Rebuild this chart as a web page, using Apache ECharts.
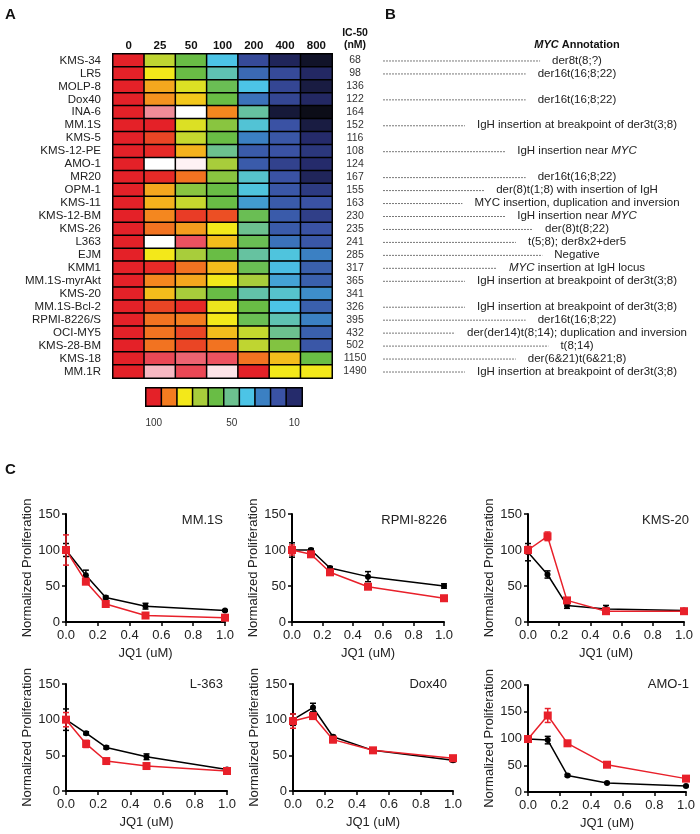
<!DOCTYPE html>
<html>
<head>
<meta charset="utf-8">
<script src="https://cdn.jsdelivr.net/npm/echarts@6/dist/echarts.min.js"></script>
<style>
html, body { margin: 0; padding: 0; background: #fff; }
#main { width: 700px; height: 834px; }
</style>
</head>
<body>
<div id="main"></div>
<script>
var FONT = '"Liberation Sans", Arial, sans-serif';

// panel A: heatmap, % proliferation vs JQ1 dose (nM)
var doseCols = ['0', '25', '50', '100', '200', '400', '800'];
var cellLines = ['KMS-34', 'LR5', 'MOLP-8', 'Dox40', 'INA-6', 'MM.1S', 'KMS-5', 'KMS-12-PE', 'AMO-1', 'MR20',
  'OPM-1', 'KMS-11', 'KMS-12-BM', 'KMS-26', 'L363', 'EJM', 'KMM1', 'MM.1S-myrAkt', 'KMS-20', 'MM.1S-Bcl-2',
  'RPMI-8226/S', 'OCI-MY5', 'KMS-28-BM', 'KMS-18', 'MM.1R'];
var ic50 = ['68', '98', '136', '122', '164', '152', '116', '108', '124', '167', '155', '163', '230', '235', '241',
  '285', '317', '365', '341', '326', '395', '432', '502', '1150', '1490'];
var proliferation = [
  [100, 73, 60, 40, 18, 8, 2],
  [100, 80, 60, 46, 25, 18, 9],
  [100, 86, 77, 58, 40, 17, 5],
  [100, 88, 83, 60, 27, 17, 9],
  [100, 120, 150, 89, 48, 4, 0],
  [100, 100, 77, 65, 42, 20, 5],
  [100, 96, 74, 60, 30, 21, 10],
  [100, 99, 85, 50, 22, 20, 13],
  [100, 150, 145, 70, 22, 16, 10],
  [100, 99, 91, 65, 43, 20, 8],
  [100, 86, 65, 60, 41, 21, 14],
  [100, 85, 74, 60, 34, 22, 20],
  [100, 89, 97, 95, 58, 22, 15],
  [100, 91, 87, 80, 50, 22, 20],
  [100, 150, 110, 84, 58, 27, 21],
  [100, 80, 70, 60, 48, 41, 30],
  [100, 99, 91, 84, 58, 39, 23],
  [100, 89, 86, 80, 70, 35, 23],
  [100, 84, 70, 60, 47, 43, 32],
  [100, 96, 99, 79, 60, 40, 23],
  [100, 91, 90, 80, 58, 46, 30],
  [100, 91, 96, 84, 74, 50, 23],
  [100, 91, 96, 91, 73, 64, 21],
  [100, 108, 113, 110, 91, 84, 60],
  [100, 130, 108, 140, 100, 80, 80]
];
var legendSteps = [100, 90, 80, 70, 60, 50, 40, 30, 20, 10];
var legendShown = ['100', '50', '10'];

// panel B
var annotations = ['der8t(8;?)', 'der16t(16;8;22)', '', 'der16t(16;8;22)', '',
  'IgH insertion at breakpoint of der3t(3;8)', '', 'IgH insertion near {i|MYC}', '', 'der16t(16;8;22)',
  'der(8)t(1;8) with insertion of IgH', 'MYC insertion, duplication and inversion', 'IgH insertion near {i|MYC}',
  'der(8)t(8;22)', 't(5;8); der8x2+der5', 'Negative', '{i|MYC} insertion at IgH locus',
  'IgH insertion at breakpoint of der3t(3;8)', '', 'IgH insertion at breakpoint of der3t(3;8)',
  'der16t(16;8;22)', 'der(der14)t(8;14); duplication and inversion', 't(8;14)', 'der(6&21)t(6&21;8)',
  'IgH insertion at breakpoint of der3t(3;8)'];

// panel C: dose response curves
var jq1Dose = [0, 0.125, 0.25, 0.5, 1.0];
var panelNames = ['MM.1S', 'RPMI-8226', 'KMS-20', 'L-363', 'Dox40', 'AMO-1'];
var panelYMax = [150, 150, 150, 150, 150, 200];
var blackMean = [
  [100, 65, 34, 22, 16],
  [100, 100, 75, 63, 50],
  [97, 66, 23, 18, 16],
  [100, 81, 61, 48, 30],
  [100, 117, 76, 57, 43],
  [99, 97, 31, 17, 11]
];
var blackErr = [
  [9, 7, 2, 4, 1],
  [10, 2, 2, 7, 3],
  [12, 5, 4, 5, 2],
  [15, 2, 2, 4, 1],
  [8, 6, 2, 2, 2],
  [4, 7, 2, 1, 1]
];
var redMean = [
  [100, 56, 25, 9, 6],
  [100, 94, 69, 49, 33],
  [100, 119, 30, 15, 15],
  [100, 66, 42, 35, 28],
  [98, 105, 72, 57, 46],
  [99, 143, 91, 51, 25]
];
var redErr = [
  [21, 3, 2, 1, 1],
  [7, 3, 3, 1, 1],
  [5, 6, 3, 4, 2],
  [10, 5, 2, 1, 1],
  [10, 4, 4, 3, 3],
  [5, 13, 5, 3, 3]
];

var panelGrids = [
  { left: 66, top: 514, width: 159, height: 108 },
  { left: 292, top: 514, width: 152, height: 108 },
  { left: 528, top: 514, width: 156, height: 108 },
  { left: 66, top: 684, width: 161, height: 107 },
  { left: 293, top: 684, width: 160, height: 107 },
  { left: 528, top: 685, width: 158, height: 107 }
];
var nameSpots = [
  { right: 477, top: 514 }, { right: 253, top: 514 }, { right: 11, top: 514 },
  { right: 477, top: 678 }, { right: 253, top: 678 }, { right: 11, top: 678 }
];

var heatData = [];
proliferation.forEach(function (row, r) {
  row.forEach(function (v, c) { heatData.push([c, r, v]); });
});
var legendData = legendSteps.map(function (v, i) { return [i, 0, v]; });

function errorBar(params, api) {
  var x = api.value(0);
  var top = api.coord([x, api.value(2)]);
  var bot = api.coord([x, api.value(1)]);
  var w = 3;
  var st = { stroke: api.visual('color'), lineWidth: 1.5 };
  return {
    type: 'group',
    children: [
      { type: 'line', shape: { x1: top[0], y1: top[1], x2: bot[0], y2: bot[1] }, style: st },
      { type: 'line', shape: { x1: top[0] - w, y1: top[1], x2: top[0] + w, y2: top[1] }, style: st },
      { type: 'line', shape: { x1: bot[0] - w, y1: bot[1], x2: bot[0] + w, y2: bot[1] }, style: st }
    ]
  };
}

var grids = [
  { left: 113, top: 54, width: 219, height: 324 },
  { left: 146, top: 388, width: 156, height: 18 }
].concat(panelGrids);

var xAxes = [
  {
    gridIndex: 0, type: 'category', data: doseCols, position: 'top',
    axisLine: { show: false }, axisTick: { show: false },
    axisLabel: { interval: 0, margin: 2, fontSize: 11.5, fontWeight: 'bold', color: '#111', fontFamily: FONT }
  },
  {
    gridIndex: 1, type: 'category', data: legendSteps.map(String),
    axisLine: { show: false }, axisTick: { show: false },
    axisLabel: {
      margin: 12, fontSize: 10, color: '#333', fontFamily: FONT,
      interval: function (i, v) { return legendShown.indexOf(v) >= 0; }
    }
  }
];
var yAxes = [
  {
    gridIndex: 0, type: 'category', data: cellLines, inverse: true,
    axisLine: { show: false }, axisTick: { show: false },
    axisLabel: { interval: 0, margin: 12, fontSize: 11.5, color: '#222', fontFamily: FONT }
  },
  {
    gridIndex: 0, type: 'category', data: ic50, inverse: true, position: 'right',
    axisLine: { show: false }, axisTick: { show: false },
    axisLabel: { interval: 0, margin: 23, align: 'center', fontSize: 10.5, color: '#333', fontFamily: FONT }
  },
  {
    gridIndex: 1, type: 'category', data: ['scale'], show: false
  }
];

var series = [
  {
    type: 'heatmap', xAxisIndex: 0, yAxisIndex: 0, data: heatData,
    itemStyle: { borderColor: '#000', borderWidth: 1.5 },
    emphasis: { disabled: true }
  },
  {
    type: 'heatmap', xAxisIndex: 1, yAxisIndex: 2, data: legendData,
    itemStyle: { borderColor: '#000', borderWidth: 1.5 },
    emphasis: { disabled: true }
  }
];

panelNames.forEach(function (name, k) {
  var gi = k + 2;
  xAxes.push({
    gridIndex: gi, type: 'value', min: 0, max: 1, interval: 0.2,
    name: 'JQ1 (uM)', nameLocation: 'middle', nameGap: 25,
    nameTextStyle: { fontSize: 13, color: '#222', fontFamily: FONT },
    axisLine: { onZero: false, lineStyle: { color: '#000', width: 2 } },
    axisTick: { show: true, length: 4, lineStyle: { color: '#000', width: 1.5 } },
    axisLabel: { margin: 7, fontSize: 13, color: '#222', fontFamily: FONT, formatter: function (v) { return v.toFixed(1); } },
    splitLine: { show: false }
  });
  yAxes.push({
    gridIndex: gi, type: 'value', min: 0, max: panelYMax[k], interval: 50,
    name: 'Normalized Proliferation', nameLocation: 'middle', nameGap: 28, nameRotate: 90,
    nameTextStyle: { fontSize: 13, color: '#222', fontFamily: FONT },
    axisLine: { show: true, onZero: false, lineStyle: { color: '#000', width: 2 } },
    axisTick: { show: true, length: 4, lineStyle: { color: '#000', width: 1.5 } },
    axisLabel: { margin: 6, fontSize: 13, color: '#222', fontFamily: FONT },
    splitLine: { show: false }
  });
  var xi = k + 2, yi = k + 3;
  [[blackMean[k], blackErr[k], '#000', 'circle', 6], [redMean[k], redErr[k], '#e8202a', 'rect', 8]].forEach(function (s, n) {
    var mean = s[0], err = s[1];
    series.push({
      type: 'custom', xAxisIndex: xi, yAxisIndex: yi, renderItem: errorBar,
      itemStyle: { color: s[2] }, encode: { x: 0, y: [1, 2] }, z: 2 + n * 2, silent: true,
      data: jq1Dose.map(function (x, j) { return [x, mean[j] - err[j], mean[j] + err[j]]; })
    });
    series.push({
      type: 'line', xAxisIndex: xi, yAxisIndex: yi, symbol: s[3], symbolSize: s[4],
      lineStyle: { color: s[2], width: 1.5 }, itemStyle: { color: s[2] }, z: 3 + n * 2, silent: true,
      data: jq1Dose.map(function (x, j) { return [x, mean[j]]; })
    });
  });
});

var option = {
  animation: false,
  backgroundColor: '#fff',
  textStyle: { fontFamily: FONT },
  title: panelNames.map(function (n, k) {
    return {
      text: n, right: nameSpots[k].right, top: nameSpots[k].top, padding: 0,
      textStyle: { fontSize: 13, fontWeight: 'normal', color: '#222', fontFamily: FONT }
    };
  }),
  visualMap: {
    type: 'continuous', show: false, min: 0, max: 150, seriesIndex: [0, 1], dimension: 2,
    inRange: {
      color: ['#0c0d18', '#252b6b', '#3a52a4', '#3b80c3', '#4cc4e6', '#6cc18f', '#69bd45', '#a8cd3b',
        '#f3e81a', '#f47c20', '#e42128', '#ec5260', '#f08c98', '#f7b8c2', '#fde4e8', '#ffffff']
    }
  },
  grid: grids,
  xAxis: xAxes,
  yAxis: yAxes,
  series: series
};

var chart = echarts.init(document.getElementById('main'));
chart.setOption(option);

// labels, headers and annotation leaders
var ctx = document.createElement('canvas').getContext('2d');
ctx.font = '11.5px ' + FONT;
var txtX = 577;
var gfx = [
  { type: 'text', style: { text: 'A', x: 5, y: 7, fontSize: 15, fontWeight: 'bold', fontFamily: FONT, fill: '#111' } },
  { type: 'text', style: { text: 'B', x: 385, y: 7, fontSize: 15, fontWeight: 'bold', fontFamily: FONT, fill: '#111' } },
  { type: 'text', style: { text: 'C', x: 5, y: 462, fontSize: 15, fontWeight: 'bold', fontFamily: FONT, fill: '#111' } },
  { type: 'text', style: { text: 'IC-50', x: 355, y: 33, align: 'center', verticalAlign: 'middle', fontSize: 10.5, fontWeight: 'bold', fontFamily: FONT, fill: '#111' } },
  { type: 'text', style: { text: '(nM)', x: 355, y: 45, align: 'center', verticalAlign: 'middle', fontSize: 10.5, fontWeight: 'bold', fontFamily: FONT, fill: '#111' } },
  {
    type: 'text', style: {
      text: '{i|MYC} Annotation', x: txtX, y: 45, align: 'center', verticalAlign: 'middle',
      fontSize: 11, fontWeight: 'bold', fontFamily: FONT, fill: '#111',
      rich: { i: { fontStyle: 'italic', fontWeight: 'bold', fontSize: 11, fontFamily: FONT, fill: '#111' } }
    }
  }
];
annotations.forEach(function (txt, i) {
  if (!txt) return;
  var y = chart.convertToPixel({ yAxisIndex: 0 }, cellLines[i]);
  var w = ctx.measureText(txt.replace(/\{i\|([^}]*)\}/g, '$1')).width;
  gfx.push({
    type: 'line', silent: true,
    shape: { x1: 383, y1: y + 0.5, x2: txtX - w / 2 - 12, y2: y + 0.5 },
    style: { stroke: '#555', lineWidth: 0.8, lineDash: [2, 1] }
  });
  gfx.push({
    type: 'text', silent: true,
    style: {
      text: txt, x: txtX, y: y, align: 'center', verticalAlign: 'middle',
      fontSize: 11.5, fontFamily: FONT, fill: '#222',
      rich: { i: { fontStyle: 'italic', fontSize: 11.5, fontFamily: FONT, fill: '#222' } }
    }
  });
});
chart.setOption({ graphic: gfx });
</script>
